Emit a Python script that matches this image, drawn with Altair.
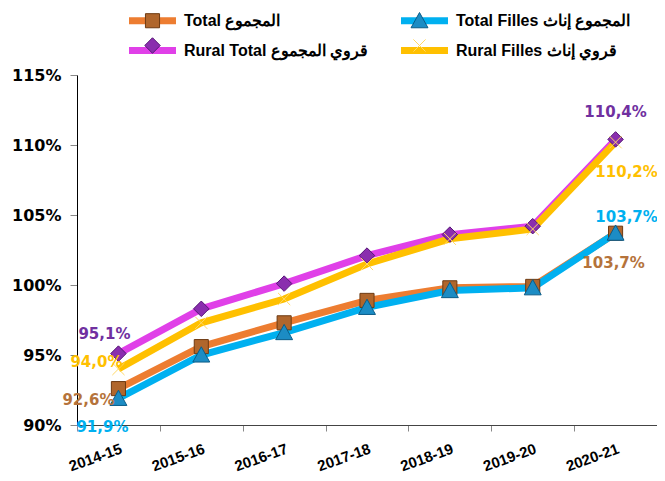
import altair as alt
import pandas as pd

seasons = ["2014-15", "2015-16", "2016-17", "2017-18", "2018-19", "2019-20", "2020-21"]
series_names = [
    "Total  المجموع",
    "Total Filles  المجموع إناث",
    "Rural Total  قروي المجموع",
    "Rural Filles  قروي  إناث",
]
total = [92.6, 95.6, 97.3, 98.9, 99.8, 99.9, 103.7]
total_filles = [91.9, 95.0, 96.6, 98.4, 99.6, 99.8, 103.7]
rural_total = [95.1, 98.3, 100.1, 102.1, 103.6, 104.2, 110.4]
rural_filles = [94.0, 97.3, 99.0, 101.5, 103.3, 104.0, 110.2]
y_ticks = [90, 95, 100, 105, 110, 115]

line_colors = ["#ED7D31", "#00B0F0", "#E040E8", "#FFC000"]
marker_fill = ["#B0662C", "#1C8CC4", "#8A2EAE", "#FFE38A"]
marker_stroke = ["#6E3A12", "#0A5C88", "#561676", "#FFD966"]
label_colors = ["#B5733B", "#00B0F0", "#7030A0", "#FFC000"]
marker_shapes = [
    "M-0.6,-0.6H0.6V0.6H-0.6Z",
    "M0,-0.7L0.72,0.6L-0.72,0.6Z",
    "M0,-0.66L0.66,0L0,0.66L-0.66,0Z",
    "M-0.52,-0.52L0.52,0.52M-0.52,0.52L0.52,-0.52",
]
legend_line_path = "M-2,0H2"

marker_keys = ["m:" + n for n in series_names]
values_by_series = [total, total_filles, rural_total, rural_filles]
rows = []
for name, key, vals in zip(series_names, marker_keys, values_by_series):
    for s, v in zip(seasons, vals):
        rows.append({"season": s, "series": name, "series_m": key, "value": v})
df = pd.DataFrame(rows)

SYM = 552   # symbol unit = 11.75 px
legend_common = dict(
    orient="none", legendX=52, columns=2, direction="horizontal",
    title=None, labelFont="Liberation Sans", labelFontSize=16, labelFontWeight="bold",
    labelColor="#000000", symbolSize=SYM, padding=0, symbolOpacity=1, labelLimit=400,
)

x_enc = alt.X(
    "season:O", sort=seasons, bandPosition=0.5,
    scale=alt.Scale(type="band", paddingInner=0, paddingOuter=0),
    axis=alt.Axis(
        title=None, labelAngle=340, labelAlign="right", labelBaseline="top",
        tickBand="extent", tickSize=6, tickColor="#888888", domainColor="#444444",
        labelFont="Liberation Sans", labelFontSize=15, labelFontWeight="bold",
        labelColor="#000000", labelPadding=10, grid=False,
    ),
)
y_enc = alt.Y(
    "value:Q", scale=alt.Scale(domain=[90, 115], nice=False, zero=False),
    axis=alt.Axis(
        values=y_ticks, labelExpr="datum.value + '%'", title=None, grid=False,
        tickSize=7, tickColor="#888888", domainColor="#000000",
        labelFont="DejaVu Sans", labelFontSize=16, labelFontWeight="bold",
        labelColor="#000000", labelPadding=9,
    ),
)
color_enc = alt.Color(
    "series:N", scale=alt.Scale(domain=series_names, range=line_colors),
    legend=alt.Legend(symbolType=legend_line_path, symbolStrokeWidth=7, symbolOffset=8,
                      labelOffset=16, columnPadding=14, rowPadding=-3, legendY=-70,
                      **legend_common),
)
m_legend = alt.Legend(labelExpr="''", symbolStrokeWidth=1, symbolOffset=11, labelOffset=0,
                      columnPadding=231, rowPadding=3, legendY=-67, **legend_common)
shape_enc = alt.Shape("series_m:N", scale=alt.Scale(domain=marker_keys, range=marker_shapes), legend=m_legend)
fill_enc = alt.Fill("series_m:N", scale=alt.Scale(domain=marker_keys, range=marker_fill), legend=m_legend)
stroke_enc = alt.Stroke("series_m:N", scale=alt.Scale(domain=marker_keys, range=marker_stroke), legend=None)

base = alt.Chart(df)
layers = []
for name in series_names:
    layers.append(
        base.transform_filter(alt.datum.series == name)
        .mark_line(strokeWidth=7)
        .encode(x=x_enc, y=y_enc, color=color_enc)
    )
for key in marker_keys:
    layers.append(
        base.transform_filter(alt.datum.series_m == key)
        .mark_point(filled=True, size=SYM, opacity=1, strokeWidth=1)
        .encode(x=x_enc, y=y_enc, shape=shape_enc, fill=fill_enc, stroke=stroke_enc)
    )

# data labels: (series index, season index, dx, dy)
label_specs = [
    (2, 0, -14, -20), (3, 0, -22, -7), (0, 0, -30, 11), (1, 0, -16, 29),
    (2, 6, 0, -27), (3, 6, 11, 30), (1, 6, 11, -16), (0, 6, -2, 30),
]
for si, ti, dx, dy in label_specs:
    name = series_names[si]
    season = seasons[ti]
    layers.append(
        base.transform_filter((alt.datum.series == name) & (alt.datum.season == season))
        .transform_calculate(lbl="replace(format(datum.value, '.1f'), '.', ',') + '%'")
        .mark_text(dx=dx, dy=dy, font="DejaVu Sans", fontSize=15, fontWeight="bold",
                   color=label_colors[si], align="center", baseline="middle")
        .encode(x=x_enc, y=y_enc, text="lbl:N")
    )

chart = (
    alt.layer(*layers)
    .properties(
        width=580, height=350,
        autosize=alt.AutoSizeParams(type="none"),
        padding={"left": 69, "top": 67, "right": 0, "bottom": 48},
    )
    .configure_view(stroke=None)
)
chart.save("out.html", embed_options={"renderer": "svg", "actions": False})
